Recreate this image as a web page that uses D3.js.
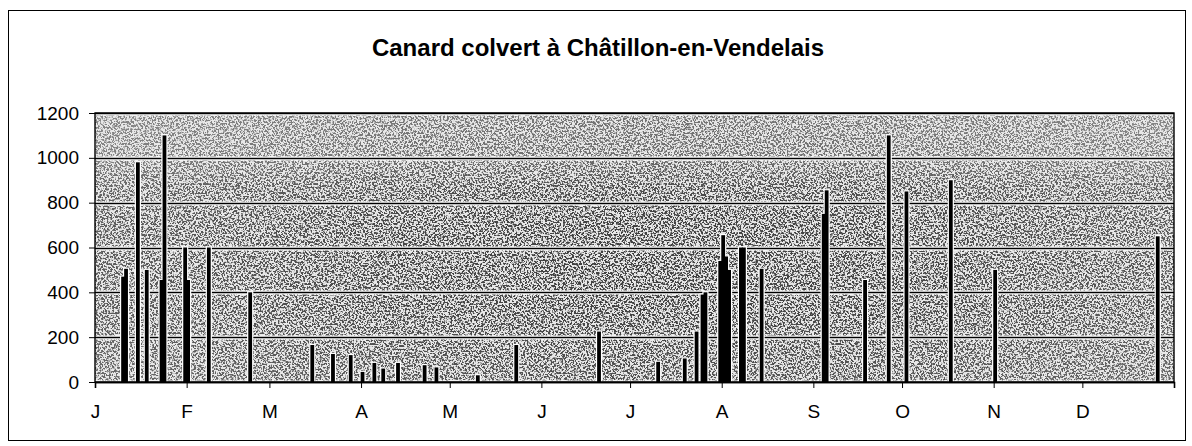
<!DOCTYPE html>
<head>
  <meta charset="utf-8">
  <title>Canard colvert</title>
  <style>
    body { margin: 0; padding: 0; background: #fff; }
    text { font-family: 'Liberation Sans', Arial, sans-serif; fill: #000; }
    .title { font-weight: 700; font-size: 24px; }
    .ylab, .xlab { font-size: 19px; }
  </style>
</head>
<body>
  <div id="vis"></div>
  <script src="https://cdn.jsdelivr.net/npm/d3@7"></script>
  <script>
    // counts of mallards, one bar per observation date (2001 = plain year)
    var obsDates = ["01-10","01-11","01-15","01-18","01-23","01-24","01-31","02-01","02-08","02-22",
                    "03-15","03-22","03-28","04-01","04-05","04-08","04-13","04-22","04-26","05-10",
                    "05-23","06-20","07-10","07-19","07-23","07-25","07-26","07-31","08-01","08-02",
                    "08-03","08-07","08-08","08-14","09-04","09-05","09-18","09-26","10-02","10-17",
                    "11-01","12-26"];
    var obsCounts = [470, 505, 980, 500, 455, 1100, 600, 455, 600, 400,
                     165, 125, 120, 45, 85, 60, 85, 75, 65, 30,
                     165, 225, 90, 105, 225, 390, 400, 540, 655, 560,
                     500, 600, 600, 505, 750, 855, 455, 1100, 850, 900,
                     500, 650];
    var monthLabels = ["J","F","M","A","M","J","J","A","S","O","N","D"];
    var yTicks = [0, 200, 400, 600, 800, 1000, 1200];

    (function() {
    var width = 1192, height = 446,
        pL = 95, pR = 1174, pT = 113, pB = 382,
        barW = 3.8;

    var parse = d3.timeParse("%Y-%m-%d");
    var data = obsDates.map(function(d, i) {
      return { date: parse("2001-" + d), count: obsCounts[i] };
    });

    var x = d3.scaleTime()
      .domain([new Date(2001, 0, 1), new Date(2002, 0, 1)])
      .range([pL, pR]);
    var y = d3.scaleLinear().domain([0, 1200]).range([pB, pT]);
    var halfDay = (x(new Date(2001, 0, 2)) - x(new Date(2001, 0, 1))) / 2;

    var svg = d3.select("#vis").append("svg")
      .attr("width", width)
      .attr("height", height);

    var defs = svg.append("defs");
    var f = defs.append("filter").attr("id", "grain")
      .attr("filterUnits", "userSpaceOnUse")
      .attr("x", pL).attr("y", pT).attr("width", pR - pL).attr("height", pB - pT);
    f.append("feTurbulence")
      .attr("type", "fractalNoise")
      .attr("baseFrequency", 0.55)
      .attr("numOctaves", 2)
      .attr("seed", 7);
    f.append("feColorMatrix")
      .attr("type", "matrix")
      .attr("values", "0 0 0 0 0.05  0 0 0 0 0.05  0 0 0 0 0.05  -8.5 0 0 0 4.6");

    // denser speckle in the middle band, lighter at top / bottom
    var gv = defs.append("linearGradient").attr("id", "densV")
      .attr("x1", 0).attr("y1", 0).attr("x2", 0).attr("y2", 1);
    [["0%", "#b0b0b0"], ["17%", "#bcbcbc"], ["28%", "#eeeeee"], ["40%", "#fff"],
     ["72%", "#fff"], ["100%", "#e4e4e4"]].forEach(function(s) {
      gv.append("stop").attr("offset", s[0]).attr("stop-color", s[1]);
    });
    var gh = defs.append("linearGradient").attr("id", "densH")
      .attr("x1", 0).attr("y1", 0).attr("x2", 1).attr("y2", 0);
    [["0%", "#d2d2d2"], ["30%", "#f6f6f6"], ["50%", "#fff"], ["72%", "#f6f6f6"],
     ["100%", "#d6d6d6"]].forEach(function(s) {
      gh.append("stop").attr("offset", s[0]).attr("stop-color", s[1]);
    });
    ["densV", "densH"].forEach(function(id) {
      defs.append("mask").attr("id", id + "Mask")
        .attr("maskUnits", "userSpaceOnUse")
        .attr("x", pL).attr("y", pT).attr("width", pR - pL).attr("height", pB - pT)
        .append("rect")
        .attr("x", pL).attr("y", pT)
        .attr("width", pR - pL).attr("height", pB - pT)
        .attr("fill", "url(#" + id + ")");
    });

    // chart frame
    svg.append("rect")
      .attr("x", 8.5).attr("y", 10.5)
      .attr("width", 1177).attr("height", 430)
      .attr("fill", "none").attr("stroke", "#000");

    svg.append("text")
      .attr("class", "title")
      .attr("x", 598).attr("y", 56)
      .attr("text-anchor", "middle")
      .text("Canard colvert à Châtillon-en-Vendelais");

    // plot area: stippled grey
    svg.append("rect")
      .attr("x", pL).attr("y", pT)
      .attr("width", pR - pL).attr("height", pB - pT)
      .attr("fill", "#e8e8e8");
    svg.append("g").attr("mask", "url(#densHMask)")
      .append("g").attr("mask", "url(#densVMask)")
      .append("rect")
      .attr("x", pL).attr("y", pT)
      .attr("width", pR - pL).attr("height", pB - pT)
      .attr("filter", "url(#grain)");

    var grid = svg.append("g").attr("class", "grid");
    grid.selectAll("line.halo").data(yTicks).enter().append("line")
      .attr("class", "halo")
      .attr("x1", pL).attr("x2", pR)
      .attr("y1", function(d) { return Math.round(y(d)) + 0.5; })
      .attr("y2", function(d) { return Math.round(y(d)) + 0.5; })
      .attr("stroke", "#fff").attr("stroke-width", 4);
    grid.selectAll("line.rule").data(yTicks).enter().append("line")
      .attr("class", "rule")
      .attr("x1", pL).attr("x2", pR)
      .attr("y1", function(d) { return Math.round(y(d)) + 0.5; })
      .attr("y2", function(d) { return Math.round(y(d)) + 0.5; })
      .attr("stroke", "#000").attr("stroke-width", 1.4);

    // bars: white halo layer first, then black bars so neighbours merge
    var bars = svg.append("g");
    bars.selectAll("rect.halo").data(data).enter().append("rect")
      .attr("class", "halo")
      .attr("x", function(d) { return x(d.date) + halfDay - barW / 2 - 1.2; })
      .attr("y", function(d) { return y(d.count) - 1.2; })
      .attr("width", barW + 2.4)
      .attr("height", function(d) { return y(0) - y(d.count) + 1.2; })
      .attr("fill", "#fff");
    bars.selectAll("rect.bar").data(data).enter().append("rect")
      .attr("class", "bar")
      .attr("x", function(d) { return x(d.date) + halfDay - barW / 2; })
      .attr("y", function(d) { return y(d.count); })
      .attr("width", barW)
      .attr("height", function(d) { return y(0) - y(d.count); })
      .attr("fill", "#000");

    // plot border
    svg.append("rect")
      .attr("x", pL).attr("y", pT)
      .attr("width", pR - pL).attr("height", pB - pT)
      .attr("fill", "none").attr("stroke", "#000").attr("stroke-width", 1.4);

    // y axis
    var yAxis = d3.axisLeft(y).tickValues(yTicks).tickSize(6).tickPadding(10)
      .tickFormat(d3.format("d"));
    var gy = svg.append("g").attr("transform", "translate(" + pL + ",0)").call(yAxis);
    gy.select(".domain").remove();
    gy.selectAll("text").attr("class", "ylab");
    gy.attr("font-size", null).attr("font-family", null);

    // x axis, one tick per month
    var months = d3.timeMonth.range(new Date(2001, 0, 1), new Date(2002, 0, 2));
    var xAxis = d3.axisBottom(x).tickValues(months).tickSize(6).tickPadding(17)
      .tickFormat(function(d, i) { return monthLabels[i] || ""; });
    var gx = svg.append("g").attr("transform", "translate(0," + pB + ")").call(xAxis);
    gx.select(".domain").attr("stroke-width", 1.6);
    gx.selectAll("text").attr("class", "xlab");
    gx.attr("font-size", null).attr("font-family", null);
    })();
  </script>
</body>
